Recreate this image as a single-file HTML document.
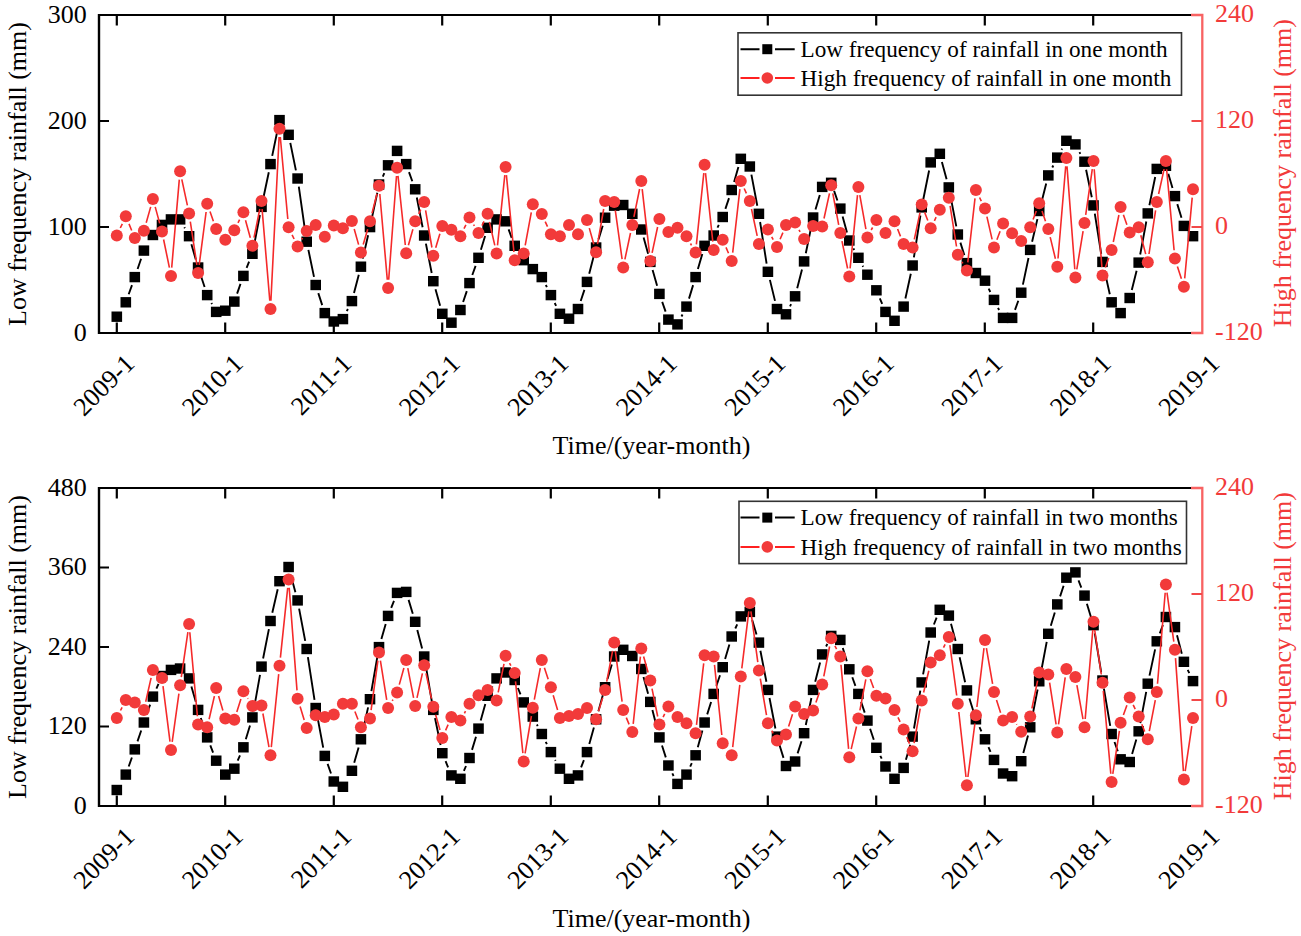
<!DOCTYPE html>
<html><head><meta charset="utf-8"><title>Rainfall frequency components</title>
<style>
html,body{margin:0;padding:0;background:#fff;}
body{width:1301px;height:936px;overflow:hidden;}
svg{display:block;font-family:"Liberation Serif",serif;font-size:26px;}
</style></head><body>
<svg width="1301" height="936" viewBox="0 0 1301 936">
<rect width="1301" height="936" fill="#fff"/>
<path d="M128.7 294.3L132 285.1M137.6 269L141.1 258.7M184.3 227.2L184.9 228.3M191.4 244.3L195.8 259.4M200.8 275.5L204.6 287M211.4 303L212 304.1M237.1 293.6L240.5 283.9M246.6 267.9L249.1 261.7M254 245.6L259.9 215M263.2 198.7L268.8 172.2M272.2 155.9L277.9 128.2M290.3 142.9L295.9 170.4M298.8 186.7L305.5 233.6M308.4 249.9L314 276.9M318.3 293.1L322.2 305.1M346.8 311.2L347.9 309M354 293L358.8 274.8M362.8 258.6L368.1 235.2M371.7 218.9L377.3 192.7M382.8 176.6L384.3 173.2M409 172.1L412.3 181.3M416.8 197.5L422.6 227.3M425.9 243.6L431.7 273M435.5 289.2L440.1 305.8M463.1 302L466.8 291.1M472.3 275L475.6 265.9M480.9 249.8L485.1 235.9M508.6 229.3L511.7 237.8M545.8 285L546.9 287.2M554.7 303L556.1 305.9M580.7 301L584.4 289.9M589.2 273.8L593.9 255.6M598.5 239.4L602.7 225.8M643.6 237.6L648.1 253.8M652.6 270L657.1 285.8M662.2 301.9L665.6 311.6M681.5 316.5L682.5 314.5M689 298.6L693.1 285.1M697.9 269L702.3 253.9M717.5 227.6L718.8 224.9M725.4 208.9L729 198.1M734.1 182L738.4 166.9M751.4 174.6L757.3 205.7M760.1 222L766.6 263.6M769.9 279.9L775 300.9M790 306.4L791.1 304.2M797.2 288.2L802 269.5M805.8 253.3L811.5 225.6M815.5 209.4L819.8 195M834.1 190.9L837.4 200.5M842.6 216.6L847 232.4M853.4 248.4L854.2 250M862.6 265.7L863.2 266.8M879.8 298.3L882.2 303.9M905.4 298.5L910.8 273.7M913.9 257.4L920.4 215.5M923.3 199.2L929.1 170.5M941.9 161.9L946.6 179.3M950.4 195.6L956.3 226.4M960.4 242.6L964.3 255.1M988.7 288.6L990.3 292M998 307.8L999.1 310M1015 309.9L1018.3 300.7M1022.9 284.6L1028.5 258M1032.1 241.8L1037.4 219.1M1041.3 202.9L1046.2 183.5M1052.3 167.5L1053.3 165.5M1061.5 149.7L1062.1 148.6M1079.5 152.2L1080.3 153.8M1086.1 169.8L1091.8 197.3M1094.8 213.6L1101.2 253.8M1104.4 270.1L1109.8 294.2M1131.8 289.9L1136.6 270.8M1140.2 254.5L1146.3 221.5M1149.4 205.2L1155.2 177M1168.3 173.8L1172.5 188M1177.3 204.1L1181.5 217.8" stroke="#000" stroke-width="1.9" fill="none"/>
<g fill="#000"><rect x="111.5" y="311.5" width="10.6" height="10.4"/><rect x="120.5" y="297.1" width="10.6" height="10.4"/><rect x="129.5" y="271.9" width="10.6" height="10.4"/><rect x="138.6" y="245.4" width="10.6" height="10.4"/><rect x="147.6" y="229.8" width="10.6" height="10.4"/><rect x="156.7" y="219.7" width="10.6" height="10.4"/><rect x="165.7" y="214.2" width="10.6" height="10.4"/><rect x="174.8" y="214.2" width="10.6" height="10.4"/><rect x="183.8" y="231" width="10.6" height="10.4"/><rect x="192.8" y="262.3" width="10.6" height="10.4"/><rect x="201.9" y="289.9" width="10.6" height="10.4"/><rect x="210.9" y="306.7" width="10.6" height="10.4"/><rect x="220" y="305.5" width="10.6" height="10.4"/><rect x="229" y="296.4" width="10.6" height="10.4"/><rect x="238.1" y="270.7" width="10.6" height="10.4"/><rect x="247.1" y="248.6" width="10.6" height="10.4"/><rect x="256.2" y="201.7" width="10.6" height="10.4"/><rect x="265.2" y="158.9" width="10.6" height="10.4"/><rect x="274.2" y="114.9" width="10.6" height="10.4"/><rect x="283.3" y="129.6" width="10.6" height="10.4"/><rect x="292.3" y="173.3" width="10.6" height="10.4"/><rect x="301.4" y="236.5" width="10.6" height="10.4"/><rect x="310.4" y="279.8" width="10.6" height="10.4"/><rect x="319.5" y="307.9" width="10.6" height="10.4"/><rect x="328.5" y="316.3" width="10.6" height="10.4"/><rect x="337.6" y="313.9" width="10.6" height="10.4"/><rect x="346.6" y="295.9" width="10.6" height="10.4"/><rect x="355.6" y="261.5" width="10.6" height="10.4"/><rect x="364.7" y="221.9" width="10.6" height="10.4"/><rect x="373.7" y="179.3" width="10.6" height="10.4"/><rect x="382.8" y="160.1" width="10.6" height="10.4"/><rect x="391.8" y="145.7" width="10.6" height="10.4"/><rect x="400.9" y="158.9" width="10.6" height="10.4"/><rect x="409.9" y="184.1" width="10.6" height="10.4"/><rect x="418.9" y="230.3" width="10.6" height="10.4"/><rect x="428" y="276" width="10.6" height="10.4"/><rect x="437" y="308.6" width="10.6" height="10.4"/><rect x="446.1" y="317.5" width="10.6" height="10.4"/><rect x="455.1" y="304.8" width="10.6" height="10.4"/><rect x="464.2" y="277.9" width="10.6" height="10.4"/><rect x="473.2" y="252.6" width="10.6" height="10.4"/><rect x="482.3" y="222.6" width="10.6" height="10.4"/><rect x="491.3" y="214.2" width="10.6" height="10.4"/><rect x="500.3" y="216.1" width="10.6" height="10.4"/><rect x="509.4" y="240.6" width="10.6" height="10.4"/><rect x="518.4" y="255" width="10.6" height="10.4"/><rect x="527.5" y="263.9" width="10.6" height="10.4"/><rect x="536.5" y="271.9" width="10.6" height="10.4"/><rect x="545.6" y="289.9" width="10.6" height="10.4"/><rect x="554.6" y="308.6" width="10.6" height="10.4"/><rect x="563.7" y="313.5" width="10.6" height="10.4"/><rect x="572.7" y="303.8" width="10.6" height="10.4"/><rect x="581.7" y="276.7" width="10.6" height="10.4"/><rect x="590.8" y="242.3" width="10.6" height="10.4"/><rect x="599.8" y="212.5" width="10.6" height="10.4"/><rect x="608.9" y="200.5" width="10.6" height="10.4"/><rect x="617.9" y="199.8" width="10.6" height="10.4"/><rect x="627" y="208.6" width="10.6" height="10.4"/><rect x="636" y="224.3" width="10.6" height="10.4"/><rect x="645" y="256.7" width="10.6" height="10.4"/><rect x="654.1" y="288.7" width="10.6" height="10.4"/><rect x="663.1" y="314.4" width="10.6" height="10.4"/><rect x="672.2" y="319.2" width="10.6" height="10.4"/><rect x="681.2" y="301.4" width="10.6" height="10.4"/><rect x="690.3" y="271.9" width="10.6" height="10.4"/><rect x="699.3" y="240.6" width="10.6" height="10.4"/><rect x="708.4" y="230.3" width="10.6" height="10.4"/><rect x="717.4" y="211.8" width="10.6" height="10.4"/><rect x="726.4" y="184.8" width="10.6" height="10.4"/><rect x="735.5" y="153.6" width="10.6" height="10.4"/><rect x="744.5" y="161.3" width="10.6" height="10.4"/><rect x="753.6" y="208.6" width="10.6" height="10.4"/><rect x="762.6" y="266.6" width="10.6" height="10.4"/><rect x="771.7" y="303.8" width="10.6" height="10.4"/><rect x="780.7" y="309.1" width="10.6" height="10.4"/><rect x="789.8" y="291.1" width="10.6" height="10.4"/><rect x="798.8" y="256.2" width="10.6" height="10.4"/><rect x="807.8" y="212.3" width="10.6" height="10.4"/><rect x="816.9" y="181.7" width="10.6" height="10.4"/><rect x="825.9" y="177.6" width="10.6" height="10.4"/><rect x="835" y="203.4" width="10.6" height="10.4"/><rect x="844" y="235.3" width="10.6" height="10.4"/><rect x="853.1" y="252.6" width="10.6" height="10.4"/><rect x="862.1" y="269.5" width="10.6" height="10.4"/><rect x="871.1" y="285.1" width="10.6" height="10.4"/><rect x="880.2" y="306.7" width="10.6" height="10.4"/><rect x="889.2" y="315.6" width="10.6" height="10.4"/><rect x="898.3" y="301.4" width="10.6" height="10.4"/><rect x="907.3" y="260.3" width="10.6" height="10.4"/><rect x="916.4" y="202.2" width="10.6" height="10.4"/><rect x="925.4" y="157.2" width="10.6" height="10.4"/><rect x="934.5" y="148.6" width="10.6" height="10.4"/><rect x="943.5" y="182.2" width="10.6" height="10.4"/><rect x="952.5" y="229.3" width="10.6" height="10.4"/><rect x="961.6" y="257.9" width="10.6" height="10.4"/><rect x="970.6" y="267.8" width="10.6" height="10.4"/><rect x="979.7" y="275.5" width="10.6" height="10.4"/><rect x="988.7" y="294.7" width="10.6" height="10.4"/><rect x="997.8" y="312.7" width="10.6" height="10.4"/><rect x="1006.8" y="312.7" width="10.6" height="10.4"/><rect x="1015.9" y="287.5" width="10.6" height="10.4"/><rect x="1024.9" y="244.7" width="10.6" height="10.4"/><rect x="1033.9" y="205.8" width="10.6" height="10.4"/><rect x="1043" y="170.2" width="10.6" height="10.4"/><rect x="1052" y="152.4" width="10.6" height="10.4"/><rect x="1061.1" y="135.6" width="10.6" height="10.4"/><rect x="1070.1" y="139.2" width="10.6" height="10.4"/><rect x="1079.2" y="156.5" width="10.6" height="10.4"/><rect x="1088.2" y="200.2" width="10.6" height="10.4"/><rect x="1097.2" y="256.7" width="10.6" height="10.4"/><rect x="1106.3" y="297.1" width="10.6" height="10.4"/><rect x="1115.3" y="307.9" width="10.6" height="10.4"/><rect x="1124.4" y="292.8" width="10.6" height="10.4"/><rect x="1133.4" y="257.4" width="10.6" height="10.4"/><rect x="1142.5" y="208.2" width="10.6" height="10.4"/><rect x="1151.5" y="163.7" width="10.6" height="10.4"/><rect x="1160.6" y="160.6" width="10.6" height="10.4"/><rect x="1169.6" y="190.9" width="10.6" height="10.4"/><rect x="1178.6" y="220.7" width="10.6" height="10.4"/><rect x="1187.7" y="231" width="10.6" height="10.4"/></g>
<path d="M120.3 228L122.3 223.8M129 223.9L131.7 230.5M146.2 222.7L150.7 206.9M155.2 206.9L159.7 223.4M163.6 239.5L169.4 267.7M171.7 267.6L179.3 179.6M181.8 179.4L187.4 205.3M190.3 221.6L196.9 264.8M199.2 264.8L206.1 212M210 211.6L213.4 221.2M238 222.8L239.6 219.6M245.5 220.2L250.3 237.8M254 237.7L259.8 209M262.1 209.1L269.8 300.8M270.9 300.7L279.1 137M280.3 137L287.8 219M292.1 234.8L294.1 239M301.8 239.4L302.5 238.1M354.2 229L358.6 244.6M363.2 244.6L367.7 229.3M372 213.3L377 193.8M379.8 194L387.3 279.6M388.7 279.6L396.5 176M398 175.9L405.3 245M408.4 245.3L412.9 229.3M418.7 213.8L420.7 209.6M425.6 210.3L431.9 247.5M435.7 247.7L439.9 233.8M464 228.7L465.9 224.9M473.6 224.6L474.4 225.9M482 225.6L484 221.4M489.4 221.9L494.8 245.4M497.5 245.3L504.8 175.2M506.4 175.2L513.9 252M525.2 245.3L531.3 212.4M545.2 221.7L547.5 226.7M589.3 228.1L593.8 244.3M597.5 244.1L603.7 209M615.3 210.3L622.1 259.2M624.9 259.3L630.5 233M633.9 216.8L639.6 189M642.2 189.2L649.4 252.7M652.1 252.8L657.6 227M690.5 243.5L691.5 245.3M696.4 244.3L703.8 173.1M705.5 173.1L712.8 241.7M726 247.4L728.5 253.3M732.7 252.7L739.9 189.2M744.2 188.5L746.4 193.3M751.5 209L757.2 235.8M771.7 236.8L773.2 239.6M780.1 239.3L782.9 232.6M799 229.8L800.1 231.8M824 218.5L829.5 193.3M832.8 193.4L838.7 224.9M842 241.2L847.6 268.5M850.1 268.3L857.5 195.2M859.8 195.1L865.9 229.2M871.2 230L872.6 227.5M897.6 229L900.5 236.4M914.3 239.4L920 212.6M924.6 212.2L927.8 220.5M934.4 220.8L936.1 217.2M950.1 205.9L956.5 246.5M962 261.9L962.8 263.4M967.8 262.3L975 198.3M979.6 197.5L981.3 201.1M986.9 216.6L992.1 239.4M996.9 239.7L1000.1 231.2M1033.1 219.5L1036.3 211M1042 211.1L1045.5 221.2M1050.2 237.1L1055.4 258.7M1058 258.5L1065.7 166.3M1067 166.4L1074.8 269.3M1076.8 269.4L1083.1 231.2M1085.7 214.8L1092.3 169.2M1094.2 169.2L1101.9 267.1M1105.3 267.6L1108.8 258M1113.3 242L1118.9 215M1123.4 214.7L1126.9 224.8M1140.8 235.3L1145.7 254.1M1149 254L1155.6 210.3M1158.6 194L1164.1 169.1M1166.6 169.2L1174.1 250.3M1177.4 266.5L1181.4 278.8M1184.7 278.4L1192.2 197.6" stroke="#f52a2a" stroke-width="1.6" fill="none"/>
<g fill="#f23a3a"><circle cx="116.8" cy="235.5" r="6"/><circle cx="125.8" cy="216.2" r="6"/><circle cx="134.8" cy="238.1" r="6"/><circle cx="143.9" cy="230.7" r="6"/><circle cx="152.9" cy="198.9" r="6"/><circle cx="162" cy="231.4" r="6"/><circle cx="171" cy="275.9" r="6"/><circle cx="180.1" cy="171.3" r="6"/><circle cx="189.1" cy="213.4" r="6"/><circle cx="198.1" cy="273" r="6"/><circle cx="207.2" cy="203.8" r="6"/><circle cx="216.2" cy="229" r="6"/><circle cx="225.3" cy="239.8" r="6"/><circle cx="234.3" cy="230.2" r="6"/><circle cx="243.4" cy="212.2" r="6"/><circle cx="252.4" cy="245.8" r="6"/><circle cx="261.5" cy="200.9" r="6"/><circle cx="270.5" cy="309" r="6"/><circle cx="279.5" cy="128.8" r="6"/><circle cx="288.6" cy="227.3" r="6"/><circle cx="297.6" cy="246.5" r="6"/><circle cx="306.7" cy="230.9" r="6"/><circle cx="315.7" cy="224.9" r="6"/><circle cx="324.8" cy="236.7" r="6"/><circle cx="333.8" cy="225.4" r="6"/><circle cx="342.9" cy="228.3" r="6"/><circle cx="351.9" cy="221.1" r="6"/><circle cx="360.9" cy="252.5" r="6"/><circle cx="370" cy="221.3" r="6"/><circle cx="379" cy="185.7" r="6"/><circle cx="388.1" cy="287.9" r="6"/><circle cx="397.1" cy="167.7" r="6"/><circle cx="406.2" cy="253.3" r="6"/><circle cx="415.2" cy="221.3" r="6"/><circle cx="424.2" cy="202.1" r="6"/><circle cx="433.3" cy="255.7" r="6"/><circle cx="442.3" cy="225.9" r="6"/><circle cx="451.4" cy="229.7" r="6"/><circle cx="460.4" cy="236.2" r="6"/><circle cx="469.5" cy="217.5" r="6"/><circle cx="478.5" cy="233.1" r="6"/><circle cx="487.6" cy="213.8" r="6"/><circle cx="496.6" cy="253.5" r="6"/><circle cx="505.6" cy="167" r="6"/><circle cx="514.7" cy="260.2" r="6"/><circle cx="523.7" cy="253.5" r="6"/><circle cx="532.8" cy="204.2" r="6"/><circle cx="541.8" cy="214.1" r="6"/><circle cx="550.9" cy="234.3" r="6"/><circle cx="559.9" cy="236.2" r="6"/><circle cx="569" cy="224.9" r="6"/><circle cx="578" cy="234.3" r="6"/><circle cx="587" cy="220.1" r="6"/><circle cx="596.1" cy="252.3" r="6"/><circle cx="605.1" cy="200.9" r="6"/><circle cx="614.2" cy="202.1" r="6"/><circle cx="623.2" cy="267.5" r="6"/><circle cx="632.3" cy="224.9" r="6"/><circle cx="641.3" cy="180.9" r="6"/><circle cx="650.3" cy="261" r="6"/><circle cx="659.4" cy="218.9" r="6"/><circle cx="668.4" cy="231.9" r="6"/><circle cx="677.5" cy="227.8" r="6"/><circle cx="686.5" cy="236.2" r="6"/><circle cx="695.6" cy="252.5" r="6"/><circle cx="704.6" cy="164.8" r="6"/><circle cx="713.7" cy="249.9" r="6"/><circle cx="722.7" cy="239.8" r="6"/><circle cx="731.7" cy="261" r="6"/><circle cx="740.8" cy="180.9" r="6"/><circle cx="749.8" cy="200.9" r="6"/><circle cx="758.9" cy="243.9" r="6"/><circle cx="767.9" cy="229.5" r="6"/><circle cx="777" cy="247" r="6"/><circle cx="786" cy="224.9" r="6"/><circle cx="795.1" cy="222.5" r="6"/><circle cx="804.1" cy="239.1" r="6"/><circle cx="813.1" cy="225.9" r="6"/><circle cx="822.2" cy="226.6" r="6"/><circle cx="831.2" cy="185.2" r="6"/><circle cx="840.3" cy="233.1" r="6"/><circle cx="849.3" cy="276.6" r="6"/><circle cx="858.4" cy="186.9" r="6"/><circle cx="867.4" cy="237.4" r="6"/><circle cx="876.4" cy="220.1" r="6"/><circle cx="885.5" cy="233.1" r="6"/><circle cx="894.5" cy="221.3" r="6"/><circle cx="903.6" cy="244.1" r="6"/><circle cx="912.6" cy="247.5" r="6"/><circle cx="921.7" cy="204.5" r="6"/><circle cx="930.7" cy="228.3" r="6"/><circle cx="939.8" cy="209.8" r="6"/><circle cx="948.8" cy="197.7" r="6"/><circle cx="957.8" cy="254.7" r="6"/><circle cx="966.9" cy="270.6" r="6"/><circle cx="975.9" cy="190" r="6"/><circle cx="985" cy="208.6" r="6"/><circle cx="994" cy="247.5" r="6"/><circle cx="1003.1" cy="223.5" r="6"/><circle cx="1012.1" cy="233.3" r="6"/><circle cx="1021.2" cy="241" r="6"/><circle cx="1030.2" cy="227.3" r="6"/><circle cx="1039.2" cy="203.3" r="6"/><circle cx="1048.3" cy="229" r="6"/><circle cx="1057.3" cy="266.7" r="6"/><circle cx="1066.4" cy="158.1" r="6"/><circle cx="1075.4" cy="277.5" r="6"/><circle cx="1084.5" cy="223" r="6"/><circle cx="1093.5" cy="161" r="6"/><circle cx="1102.5" cy="275.4" r="6"/><circle cx="1111.6" cy="250.1" r="6"/><circle cx="1120.6" cy="206.9" r="6"/><circle cx="1129.7" cy="232.6" r="6"/><circle cx="1138.7" cy="227.3" r="6"/><circle cx="1147.8" cy="262.2" r="6"/><circle cx="1156.8" cy="202.1" r="6"/><circle cx="1165.9" cy="161" r="6"/><circle cx="1174.9" cy="258.6" r="6"/><circle cx="1183.9" cy="286.7" r="6"/><circle cx="1193" cy="189.3" r="6"/></g>
<path d="M98 15H1191M98 333H1191" stroke="#000" stroke-width="2.2" fill="none"/>
<path d="M1191 15H1202.3V333H1191" stroke="#f86262" stroke-width="2.3" fill="none"/>
<path d="M99 14V334" stroke="#000" stroke-width="2.4" fill="none"/>
<path d="M116.8 15v10.6M116.8 333v-10.6M225.2 15v10.6M225.2 333v-10.6M333.8 15v10.6M333.8 333v-10.6M442.2 15v10.6M442.2 333v-10.6M550.8 15v10.6M550.8 333v-10.6M659.2 15v10.6M659.2 333v-10.6M767.8 15v10.6M767.8 333v-10.6M876.2 15v10.6M876.2 333v-10.6M984.8 15v10.6M984.8 333v-10.6M1093.2 15v10.6M1093.2 333v-10.6M99 227h10M99 121h10" stroke="#000" stroke-width="2.2" fill="none"/>
<path d="M1202 227h-10.5M1202 121h-10.5" stroke="#f24848" stroke-width="2" fill="none"/>
<g><text x="86.8" y="340.6" text-anchor="end">0</text><text x="86.8" y="234.6" text-anchor="end">100</text><text x="86.8" y="128.6" text-anchor="end">200</text><text x="86.8" y="22.6" text-anchor="end">300</text></g>
<g fill="#f23a3a"><text x="1215" y="340.4">-120</text><text x="1215" y="234.4">0</text><text x="1215" y="128.4">120</text><text x="1215" y="22.4">240</text></g>
<g><text x="136" y="365.1" text-anchor="end" transform="rotate(-45 136 365.1)">2009-1</text><text x="244.5" y="365.1" text-anchor="end" transform="rotate(-45 244.5 365.1)">2010-1</text><text x="353" y="365.1" text-anchor="end" transform="rotate(-45 353 365.1)">2011-1</text><text x="461.5" y="365.1" text-anchor="end" transform="rotate(-45 461.5 365.1)">2012-1</text><text x="570" y="365.1" text-anchor="end" transform="rotate(-45 570 365.1)">2013-1</text><text x="678.5" y="365.1" text-anchor="end" transform="rotate(-45 678.5 365.1)">2014-1</text><text x="787" y="365.1" text-anchor="end" transform="rotate(-45 787 365.1)">2015-1</text><text x="895.5" y="365.1" text-anchor="end" transform="rotate(-45 895.5 365.1)">2016-1</text><text x="1004" y="365.1" text-anchor="end" transform="rotate(-45 1004 365.1)">2017-1</text><text x="1112.5" y="365.1" text-anchor="end" transform="rotate(-45 1112.5 365.1)">2018-1</text><text x="1221" y="365.1" text-anchor="end" transform="rotate(-45 1221 365.1)">2019-1</text></g>
<text x="25.8" y="174" text-anchor="middle" transform="rotate(-90 25.8 174)">Low frequency rainfall (mm)</text>
<text x="1290.7" y="173.2" text-anchor="middle" transform="rotate(-90 1290.7 173.2)" fill="#f23a3a">High frequency rainfall (mm)</text>
<text x="651.4" y="454.3" text-anchor="middle">Time/(year-month)</text>
<rect x="738" y="32.8" width="443.5" height="62.400000000000006" fill="#fff" stroke="#333" stroke-width="1.6"/>
<path d="M740.5 49.2H759.5M775 49.2H794.7" stroke="#000" stroke-width="2"/>
<rect x="762.3" y="44.2" width="10" height="10" fill="#000"/>
<path d="M740.5 78H759.5M775 78H794.7" stroke="#ff2020" stroke-width="2"/>
<circle cx="767.3" cy="78" r="5.8" fill="#f23a3a"/>
<text x="800.5" y="56.7" font-size="23.2">Low frequency of rainfall in one month</text>
<text x="800.5" y="85.9" font-size="23.2">High frequency of rainfall in one month</text>
<path d="M128.7 766.5L131.9 757.5M137.5 741.4L141.2 730.5M146.7 714.4L150.1 704.6M156.4 688.6L158.5 683.9M191.4 686.5L195.8 701.8M200.8 718L204.5 729.4M210.3 745.4L213.1 752.7M237.7 760.7L240 755.3M245.8 739.2L250 725.5M253.9 709.2L260 674.8M263.1 658.5L268.9 629.1M272.3 612.8L277.7 589.3M290.8 575.1L295.4 592.3M299.1 608.6L305.2 640.9M307.9 657.2L314.5 699.9M317.3 716.2L323.2 747.7M327.6 763.9L331 773.5M354.2 762.7L358.6 747.4M362.8 731.2L368.1 707.4M371.4 691.1L377.6 655.3M381.4 639.1L385.7 624M391.2 607.9L394 600.9M408.6 599.9L412.8 613.7M417.3 629.9L422.1 648.4M425.6 664.7L431.9 701.8M435 718.1L440.6 745M445.6 761.2L448.1 767.4M463.9 770.9L466 766M472 749.9L476 736.7M480.7 720.5L485.3 703.9M491.7 687.9L492.5 686.3M517.9 688L520.5 694.4M536.9 724.5L537.7 726.1M545.7 741.8L546.9 744.2M555.1 760L555.6 760.8M581.1 767.4L583.9 760.1M589.3 744L593.9 727.4M598.4 711.2L602.8 695.3M607.5 679.1L611.8 664.6M643.5 677.1L648.1 693.8M652.4 710L657.3 729.3M662 745.5L665.8 757.4M672.3 773.4L673.6 776M690.2 766.6L691.8 763.2M697.8 747.2L702.4 730.6M707.2 714.4L711.1 702M716.4 685.8L720 675.2M725.1 659.1L729.4 644.5M735.3 628.5L737.2 624.4M752.2 620L756.5 634.5M760.4 650.8L766.4 681.7M769.5 698L775.4 728.5M779.4 744.7L783.5 757.9M797.6 753.4L801.5 741.2M805.8 725L811.4 698M815.2 681.8L820.1 662.5M826.1 646.5L827.3 643.8M842.8 648L846.8 661.2M852.3 677.3L855.4 685.9M861.1 701.9L864.7 712.6M870.1 728.7L873.8 739.8M880.3 755.8L881.7 758.6M905.9 759.8L910.3 744.7M914 728.5L920.3 690.6M923.1 674.3L929.2 640.6M933.9 624.5L936.6 617.7M951 623.7L955.6 640.9M959.6 657.2L965.1 682.3M969.4 698.5L973.4 711.2M979.5 727.2L981.4 731.4M988.5 747.2L990.5 751.9M1023.3 753.1L1028 735.4M1031.8 719.1L1037.6 689.5M1040.8 673.2L1046.7 641.9M1050.8 625.7L1054.8 612.5M1060.1 596.4L1063.6 585.7M1078.5 580.4L1081.3 587.6M1086.9 603.7L1091 617.2M1094.8 633.4L1101.2 672.4M1103.9 688.7L1110.2 725.8M1114.5 742L1117.8 751.3M1132.1 753.9L1136.3 739.4M1140.3 723.1L1146.2 691.9M1149.5 675.6L1155.1 649.4M1159.8 633.3L1162.9 625M1177 635.2L1181.8 653.7M1187.7 669.8L1189.3 673.1" stroke="#000" stroke-width="1.9" fill="none"/>
<g fill="#000"><rect x="111.5" y="784.8" width="10.6" height="10.4"/><rect x="120.5" y="769.4" width="10.6" height="10.4"/><rect x="129.5" y="744.2" width="10.6" height="10.4"/><rect x="138.6" y="717.3" width="10.6" height="10.4"/><rect x="147.6" y="691.4" width="10.6" height="10.4"/><rect x="156.7" y="670.8" width="10.6" height="10.4"/><rect x="165.7" y="664.7" width="10.6" height="10.4"/><rect x="174.8" y="663.3" width="10.6" height="10.4"/><rect x="183.8" y="673.2" width="10.6" height="10.4"/><rect x="192.8" y="704.7" width="10.6" height="10.4"/><rect x="201.9" y="732.2" width="10.6" height="10.4"/><rect x="210.9" y="755.5" width="10.6" height="10.4"/><rect x="220" y="769.4" width="10.6" height="10.4"/><rect x="229" y="763.5" width="10.6" height="10.4"/><rect x="238.1" y="742.1" width="10.6" height="10.4"/><rect x="247.1" y="712.2" width="10.6" height="10.4"/><rect x="256.2" y="661.4" width="10.6" height="10.4"/><rect x="265.2" y="615.8" width="10.6" height="10.4"/><rect x="274.2" y="576" width="10.6" height="10.4"/><rect x="283.3" y="561.8" width="10.6" height="10.4"/><rect x="292.3" y="595.2" width="10.6" height="10.4"/><rect x="301.4" y="643.8" width="10.6" height="10.4"/><rect x="310.4" y="702.8" width="10.6" height="10.4"/><rect x="319.5" y="750.7" width="10.6" height="10.4"/><rect x="328.5" y="776.3" width="10.6" height="10.4"/><rect x="337.6" y="781.6" width="10.6" height="10.4"/><rect x="346.6" y="765.6" width="10.6" height="10.4"/><rect x="355.6" y="734.1" width="10.6" height="10.4"/><rect x="364.7" y="694" width="10.6" height="10.4"/><rect x="373.7" y="641.9" width="10.6" height="10.4"/><rect x="382.8" y="610.7" width="10.6" height="10.4"/><rect x="391.8" y="587.7" width="10.6" height="10.4"/><rect x="400.9" y="586.7" width="10.6" height="10.4"/><rect x="409.9" y="616.6" width="10.6" height="10.4"/><rect x="418.9" y="651.3" width="10.6" height="10.4"/><rect x="428" y="704.7" width="10.6" height="10.4"/><rect x="437" y="748" width="10.6" height="10.4"/><rect x="446.1" y="770.2" width="10.6" height="10.4"/><rect x="455.1" y="773.6" width="10.6" height="10.4"/><rect x="464.2" y="752.8" width="10.6" height="10.4"/><rect x="473.2" y="723.4" width="10.6" height="10.4"/><rect x="482.3" y="690.6" width="10.6" height="10.4"/><rect x="491.3" y="673.2" width="10.6" height="10.4"/><rect x="500.3" y="667.3" width="10.6" height="10.4"/><rect x="509.4" y="674.8" width="10.6" height="10.4"/><rect x="518.4" y="697.2" width="10.6" height="10.4"/><rect x="527.5" y="711.4" width="10.6" height="10.4"/><rect x="536.5" y="728.8" width="10.6" height="10.4"/><rect x="545.6" y="746.9" width="10.6" height="10.4"/><rect x="554.6" y="763.5" width="10.6" height="10.4"/><rect x="563.7" y="773.6" width="10.6" height="10.4"/><rect x="572.7" y="770.2" width="10.6" height="10.4"/><rect x="581.7" y="746.9" width="10.6" height="10.4"/><rect x="590.8" y="714.1" width="10.6" height="10.4"/><rect x="599.8" y="682" width="10.6" height="10.4"/><rect x="608.9" y="651.3" width="10.6" height="10.4"/><rect x="617.9" y="644.6" width="10.6" height="10.4"/><rect x="627" y="650.8" width="10.6" height="10.4"/><rect x="636" y="663.8" width="10.6" height="10.4"/><rect x="645" y="696.7" width="10.6" height="10.4"/><rect x="654.1" y="732.2" width="10.6" height="10.4"/><rect x="663.1" y="760.3" width="10.6" height="10.4"/><rect x="672.2" y="778.7" width="10.6" height="10.4"/><rect x="681.2" y="769.4" width="10.6" height="10.4"/><rect x="690.3" y="750.1" width="10.6" height="10.4"/><rect x="699.3" y="717.3" width="10.6" height="10.4"/><rect x="708.4" y="688.7" width="10.6" height="10.4"/><rect x="717.4" y="662" width="10.6" height="10.4"/><rect x="726.4" y="631.3" width="10.6" height="10.4"/><rect x="735.5" y="611.2" width="10.6" height="10.4"/><rect x="744.5" y="606.7" width="10.6" height="10.4"/><rect x="753.6" y="637.4" width="10.6" height="10.4"/><rect x="762.6" y="684.7" width="10.6" height="10.4"/><rect x="771.7" y="731.4" width="10.6" height="10.4"/><rect x="780.7" y="760.8" width="10.6" height="10.4"/><rect x="789.8" y="756.3" width="10.6" height="10.4"/><rect x="798.8" y="728" width="10.6" height="10.4"/><rect x="807.8" y="684.7" width="10.6" height="10.4"/><rect x="816.9" y="649.2" width="10.6" height="10.4"/><rect x="825.9" y="630.7" width="10.6" height="10.4"/><rect x="835" y="634.7" width="10.6" height="10.4"/><rect x="844" y="664.1" width="10.6" height="10.4"/><rect x="853.1" y="688.7" width="10.6" height="10.4"/><rect x="862.1" y="715.4" width="10.6" height="10.4"/><rect x="871.1" y="742.6" width="10.6" height="10.4"/><rect x="880.2" y="761.3" width="10.6" height="10.4"/><rect x="889.2" y="773.6" width="10.6" height="10.4"/><rect x="898.3" y="762.7" width="10.6" height="10.4"/><rect x="907.3" y="731.4" width="10.6" height="10.4"/><rect x="916.4" y="677.2" width="10.6" height="10.4"/><rect x="925.4" y="627.3" width="10.6" height="10.4"/><rect x="934.5" y="604.6" width="10.6" height="10.4"/><rect x="943.5" y="610.4" width="10.6" height="10.4"/><rect x="952.5" y="643.8" width="10.6" height="10.4"/><rect x="961.6" y="685.2" width="10.6" height="10.4"/><rect x="970.6" y="714.1" width="10.6" height="10.4"/><rect x="979.7" y="734.1" width="10.6" height="10.4"/><rect x="988.7" y="754.7" width="10.6" height="10.4"/><rect x="997.8" y="768.3" width="10.6" height="10.4"/><rect x="1006.8" y="771" width="10.6" height="10.4"/><rect x="1015.9" y="756" width="10.6" height="10.4"/><rect x="1024.9" y="722.1" width="10.6" height="10.4"/><rect x="1033.9" y="676.1" width="10.6" height="10.4"/><rect x="1043" y="628.6" width="10.6" height="10.4"/><rect x="1052" y="599.2" width="10.6" height="10.4"/><rect x="1061.1" y="572.5" width="10.6" height="10.4"/><rect x="1070.1" y="567.2" width="10.6" height="10.4"/><rect x="1079.2" y="590.4" width="10.6" height="10.4"/><rect x="1088.2" y="620" width="10.6" height="10.4"/><rect x="1097.2" y="675.3" width="10.6" height="10.4"/><rect x="1106.3" y="728.8" width="10.6" height="10.4"/><rect x="1115.3" y="754.1" width="10.6" height="10.4"/><rect x="1124.4" y="756.8" width="10.6" height="10.4"/><rect x="1133.4" y="726.1" width="10.6" height="10.4"/><rect x="1142.5" y="678.5" width="10.6" height="10.4"/><rect x="1151.5" y="636.1" width="10.6" height="10.4"/><rect x="1160.6" y="611.8" width="10.6" height="10.4"/><rect x="1169.6" y="621.9" width="10.6" height="10.4"/><rect x="1178.6" y="656.6" width="10.6" height="10.4"/><rect x="1187.7" y="675.9" width="10.6" height="10.4"/></g>
<path d="M120.5 710.5L122.1 707.4M145.7 701.8L151.1 677.9M163 686.1L170 741.7M172.2 741.8L178.9 693.6M181.3 677.1L187.9 632.1M189.8 632.2L197.4 716.3M209.1 719.2L214.4 696.1M218.6 696L222.9 710.5M236.8 711.9L240.9 699.1M247.7 698.3L248.1 698.8M262.9 713.5L269 747.2M271.3 747.1L278.7 674.1M280.4 657.6L287.7 587.8M289.2 587.8L297 690.4M300.1 706.6L304.2 720.1M354.9 711.5L358 719.5M371.1 710.2L377.9 660.7M380.4 660.7L386.7 699.9M392.3 700.9L392.9 699.7M399.3 684.6L403.9 668M407.8 668.1L413.6 697.8M417 697.8L422.4 673.4M426 673.4L431.5 698.6M435.6 714.7L440 730M445.6 730.3L448.1 724.7M464.4 713.3L465.5 711.1M498.2 692.4L504 663.8M509.5 663.1L510.9 665.7M515.5 681.3L522.9 753.2M525.1 753.3L531.4 716M534.3 699.6L540.3 668.1M544.4 667.8L548.2 679.3M553.2 695.2L557.6 710M598.5 711.3L602.7 697.8M606.7 681.7L612.6 650.8M615.3 650.8L622.1 701.7M626.3 717.6L629.1 724.4M633.2 723.8L640.4 656.7M643.6 656.5L648.1 672.5M652 688.7L657.7 716.5M663.1 717.2L664.7 713.9M696.5 724.9L703.7 663.4M714.5 664.8L721.8 735M732.7 747.1L739.8 684.8M741.8 668.3L748.8 611.3M750.9 611.3L757.8 662.2M760.3 678.6L766.5 715.1M771.8 730.6L773.1 733.3M788.6 726.6L792.5 714.3M815.9 702.6L819.4 692.4M823.8 676.4L829.6 646.5M834.9 645.8L836.6 649.1M841 664.8L848.6 748.9M851.2 749.1L856.5 726.5M859.9 710.3L865.8 679.3M870.3 679L873.6 688M898 717.4L900.1 721.9M906.7 737.1L909.5 743.6M914.1 743.1L920.2 708.7M923.6 692.5L928.8 670.7M943.5 647.7L945.1 644.4M949.9 645.2L956.7 695.5M958.8 712L966 777M967.9 777L974.9 723.5M976.9 707L984 648.2M986.4 648.1L992.6 683.8M996.5 699.9L1000.6 712.7M1016.5 724.2L1016.8 724.7M1025.4 724.7L1026 723.7M1031.9 708.5L1037.6 680.7M1049.6 682.6L1056.1 724.4M1058.5 724.4L1065.2 677.3M1076.9 685.2L1083 719.1M1085.2 719L1092.8 630M1094.7 630L1101.3 674.5M1103.3 690.9L1110.8 773.8M1112.8 773.8L1119.4 730.9M1123.4 714.9L1126.9 705.2M1133.2 704.9L1135.2 709.1M1141.8 724.3L1144.7 731.6M1149.3 731.1L1155.3 700.2M1157.5 683.7L1165.2 592.7M1167 592.6L1173.8 641.6M1175.5 658.1L1183.4 771.1M1185.2 771.1L1191.8 726.1" stroke="#f52a2a" stroke-width="1.6" fill="none"/>
<g fill="#f23a3a"><circle cx="116.8" cy="717.9" r="6"/><circle cx="125.8" cy="700" r="6"/><circle cx="134.8" cy="702.4" r="6"/><circle cx="143.9" cy="709.9" r="6"/><circle cx="152.9" cy="669.9" r="6"/><circle cx="162" cy="677.9" r="6"/><circle cx="171" cy="750" r="6"/><circle cx="180.1" cy="685.3" r="6"/><circle cx="189.1" cy="623.9" r="6"/><circle cx="198.1" cy="724.6" r="6"/><circle cx="207.2" cy="727.3" r="6"/><circle cx="216.2" cy="688" r="6"/><circle cx="225.3" cy="718.5" r="6"/><circle cx="234.3" cy="719.8" r="6"/><circle cx="243.4" cy="691.2" r="6"/><circle cx="252.4" cy="705.9" r="6"/><circle cx="261.5" cy="705.4" r="6"/><circle cx="270.5" cy="755.3" r="6"/><circle cx="279.5" cy="665.8" r="6"/><circle cx="288.6" cy="579.6" r="6"/><circle cx="297.6" cy="698.7" r="6"/><circle cx="306.7" cy="728.1" r="6"/><circle cx="315.7" cy="715.3" r="6"/><circle cx="324.8" cy="717.1" r="6"/><circle cx="333.8" cy="714.5" r="6"/><circle cx="342.9" cy="703.8" r="6"/><circle cx="351.9" cy="703.8" r="6"/><circle cx="360.9" cy="727.3" r="6"/><circle cx="370" cy="718.5" r="6"/><circle cx="379" cy="652.5" r="6"/><circle cx="388.1" cy="708" r="6"/><circle cx="397.1" cy="692.6" r="6"/><circle cx="406.2" cy="660" r="6"/><circle cx="415.2" cy="705.9" r="6"/><circle cx="424.2" cy="665.3" r="6"/><circle cx="433.3" cy="706.7" r="6"/><circle cx="442.3" cy="738" r="6"/><circle cx="451.4" cy="717.1" r="6"/><circle cx="460.4" cy="720.6" r="6"/><circle cx="469.5" cy="703.8" r="6"/><circle cx="478.5" cy="695.2" r="6"/><circle cx="487.6" cy="689.9" r="6"/><circle cx="496.6" cy="700.6" r="6"/><circle cx="505.6" cy="655.7" r="6"/><circle cx="514.7" cy="673.1" r="6"/><circle cx="523.7" cy="761.5" r="6"/><circle cx="532.8" cy="707.8" r="6"/><circle cx="541.8" cy="660" r="6"/><circle cx="550.9" cy="687.2" r="6"/><circle cx="559.9" cy="717.9" r="6"/><circle cx="569" cy="716.1" r="6"/><circle cx="578" cy="713.9" r="6"/><circle cx="587" cy="708" r="6"/><circle cx="596.1" cy="719.3" r="6"/><circle cx="605.1" cy="689.9" r="6"/><circle cx="614.2" cy="642.6" r="6"/><circle cx="623.2" cy="709.9" r="6"/><circle cx="632.3" cy="732.1" r="6"/><circle cx="641.3" cy="648.5" r="6"/><circle cx="650.3" cy="680.5" r="6"/><circle cx="659.4" cy="724.6" r="6"/><circle cx="668.4" cy="706.4" r="6"/><circle cx="677.5" cy="717.1" r="6"/><circle cx="686.5" cy="723.3" r="6"/><circle cx="695.6" cy="733.2" r="6"/><circle cx="704.6" cy="655.2" r="6"/><circle cx="713.7" cy="656.5" r="6"/><circle cx="722.7" cy="743.3" r="6"/><circle cx="731.7" cy="755.3" r="6"/><circle cx="740.8" cy="676.5" r="6"/><circle cx="749.8" cy="603.1" r="6"/><circle cx="758.9" cy="670.4" r="6"/><circle cx="767.9" cy="723.3" r="6"/><circle cx="777" cy="740.6" r="6"/><circle cx="786" cy="734.5" r="6"/><circle cx="795.1" cy="706.4" r="6"/><circle cx="804.1" cy="713.9" r="6"/><circle cx="813.1" cy="710.4" r="6"/><circle cx="822.2" cy="684.5" r="6"/><circle cx="831.2" cy="638.3" r="6"/><circle cx="840.3" cy="656.5" r="6"/><circle cx="849.3" cy="757.2" r="6"/><circle cx="858.4" cy="718.5" r="6"/><circle cx="867.4" cy="671.2" r="6"/><circle cx="876.4" cy="695.8" r="6"/><circle cx="885.5" cy="698.4" r="6"/><circle cx="894.5" cy="709.9" r="6"/><circle cx="903.6" cy="729.4" r="6"/><circle cx="912.6" cy="751.3" r="6"/><circle cx="921.7" cy="700.6" r="6"/><circle cx="930.7" cy="662.6" r="6"/><circle cx="939.8" cy="655.2" r="6"/><circle cx="948.8" cy="637" r="6"/><circle cx="957.8" cy="703.8" r="6"/><circle cx="966.9" cy="785.2" r="6"/><circle cx="975.9" cy="715.3" r="6"/><circle cx="985" cy="639.9" r="6"/><circle cx="994" cy="692" r="6"/><circle cx="1003.1" cy="720.6" r="6"/><circle cx="1012.1" cy="717.1" r="6"/><circle cx="1021.2" cy="731.8" r="6"/><circle cx="1030.2" cy="716.6" r="6"/><circle cx="1039.2" cy="672.5" r="6"/><circle cx="1048.3" cy="674.4" r="6"/><circle cx="1057.3" cy="732.6" r="6"/><circle cx="1066.4" cy="669" r="6"/><circle cx="1075.4" cy="677.1" r="6"/><circle cx="1084.5" cy="727.3" r="6"/><circle cx="1093.5" cy="621.8" r="6"/><circle cx="1102.5" cy="682.7" r="6"/><circle cx="1111.6" cy="782" r="6"/><circle cx="1120.6" cy="722.7" r="6"/><circle cx="1129.7" cy="697.4" r="6"/><circle cx="1138.7" cy="716.6" r="6"/><circle cx="1147.8" cy="739.3" r="6"/><circle cx="1156.8" cy="692" r="6"/><circle cx="1165.9" cy="584.4" r="6"/><circle cx="1174.9" cy="649.8" r="6"/><circle cx="1183.9" cy="779.4" r="6"/><circle cx="1193" cy="717.9" r="6"/></g>
<path d="M98 488H1191M98 806H1191" stroke="#000" stroke-width="2.2" fill="none"/>
<path d="M1191 488H1202.3V806H1191" stroke="#f86262" stroke-width="2.3" fill="none"/>
<path d="M99 487V807" stroke="#000" stroke-width="2.4" fill="none"/>
<path d="M116.8 488v10.6M116.8 806v-10.6M225.2 488v10.6M225.2 806v-10.6M333.8 488v10.6M333.8 806v-10.6M442.2 488v10.6M442.2 806v-10.6M550.8 488v10.6M550.8 806v-10.6M659.2 488v10.6M659.2 806v-10.6M767.8 488v10.6M767.8 806v-10.6M876.2 488v10.6M876.2 806v-10.6M984.8 488v10.6M984.8 806v-10.6M1093.2 488v10.6M1093.2 806v-10.6M99 726.5h10M99 647h10M99 567.5h10" stroke="#000" stroke-width="2.2" fill="none"/>
<path d="M1202 700h-10.5M1202 594h-10.5" stroke="#f24848" stroke-width="2" fill="none"/>
<g><text x="86.8" y="813.6" text-anchor="end">0</text><text x="86.8" y="734.1" text-anchor="end">120</text><text x="86.8" y="654.6" text-anchor="end">240</text><text x="86.8" y="575.1" text-anchor="end">360</text><text x="86.8" y="495.6" text-anchor="end">480</text></g>
<g fill="#f23a3a"><text x="1215" y="813.4">-120</text><text x="1215" y="707.4">0</text><text x="1215" y="601.4">120</text><text x="1215" y="495.4">240</text></g>
<g><text x="136" y="838.1" text-anchor="end" transform="rotate(-45 136 838.1)">2009-1</text><text x="244.5" y="838.1" text-anchor="end" transform="rotate(-45 244.5 838.1)">2010-1</text><text x="353" y="838.1" text-anchor="end" transform="rotate(-45 353 838.1)">2011-1</text><text x="461.5" y="838.1" text-anchor="end" transform="rotate(-45 461.5 838.1)">2012-1</text><text x="570" y="838.1" text-anchor="end" transform="rotate(-45 570 838.1)">2013-1</text><text x="678.5" y="838.1" text-anchor="end" transform="rotate(-45 678.5 838.1)">2014-1</text><text x="787" y="838.1" text-anchor="end" transform="rotate(-45 787 838.1)">2015-1</text><text x="895.5" y="838.1" text-anchor="end" transform="rotate(-45 895.5 838.1)">2016-1</text><text x="1004" y="838.1" text-anchor="end" transform="rotate(-45 1004 838.1)">2017-1</text><text x="1112.5" y="838.1" text-anchor="end" transform="rotate(-45 1112.5 838.1)">2018-1</text><text x="1221" y="838.1" text-anchor="end" transform="rotate(-45 1221 838.1)">2019-1</text></g>
<text x="25.8" y="647" text-anchor="middle" transform="rotate(-90 25.8 647)">Low frequency rainfall (mm)</text>
<text x="1290.7" y="646.2" text-anchor="middle" transform="rotate(-90 1290.7 646.2)" fill="#f23a3a">High frequency rainfall (mm)</text>
<text x="651.4" y="927.3" text-anchor="middle">Time/(year-month)</text>
<rect x="739" y="501.3" width="447.5" height="62.30000000000001" fill="#fff" stroke="#333" stroke-width="1.6"/>
<path d="M740.5 517.6H759.5M775 517.6H794.7" stroke="#000" stroke-width="2"/>
<rect x="762.3" y="512.6" width="10" height="10" fill="#000"/>
<path d="M740.5 546.9H759.5M775 546.9H794.7" stroke="#ff2020" stroke-width="2"/>
<circle cx="767.3" cy="546.9" r="5.8" fill="#f23a3a"/>
<text x="800.5" y="524.7" font-size="23.2">Low frequency of rainfall in two months</text>
<text x="800.5" y="554.5" font-size="23.2">High frequency of rainfall in two months</text>
</svg>
</body></html>
